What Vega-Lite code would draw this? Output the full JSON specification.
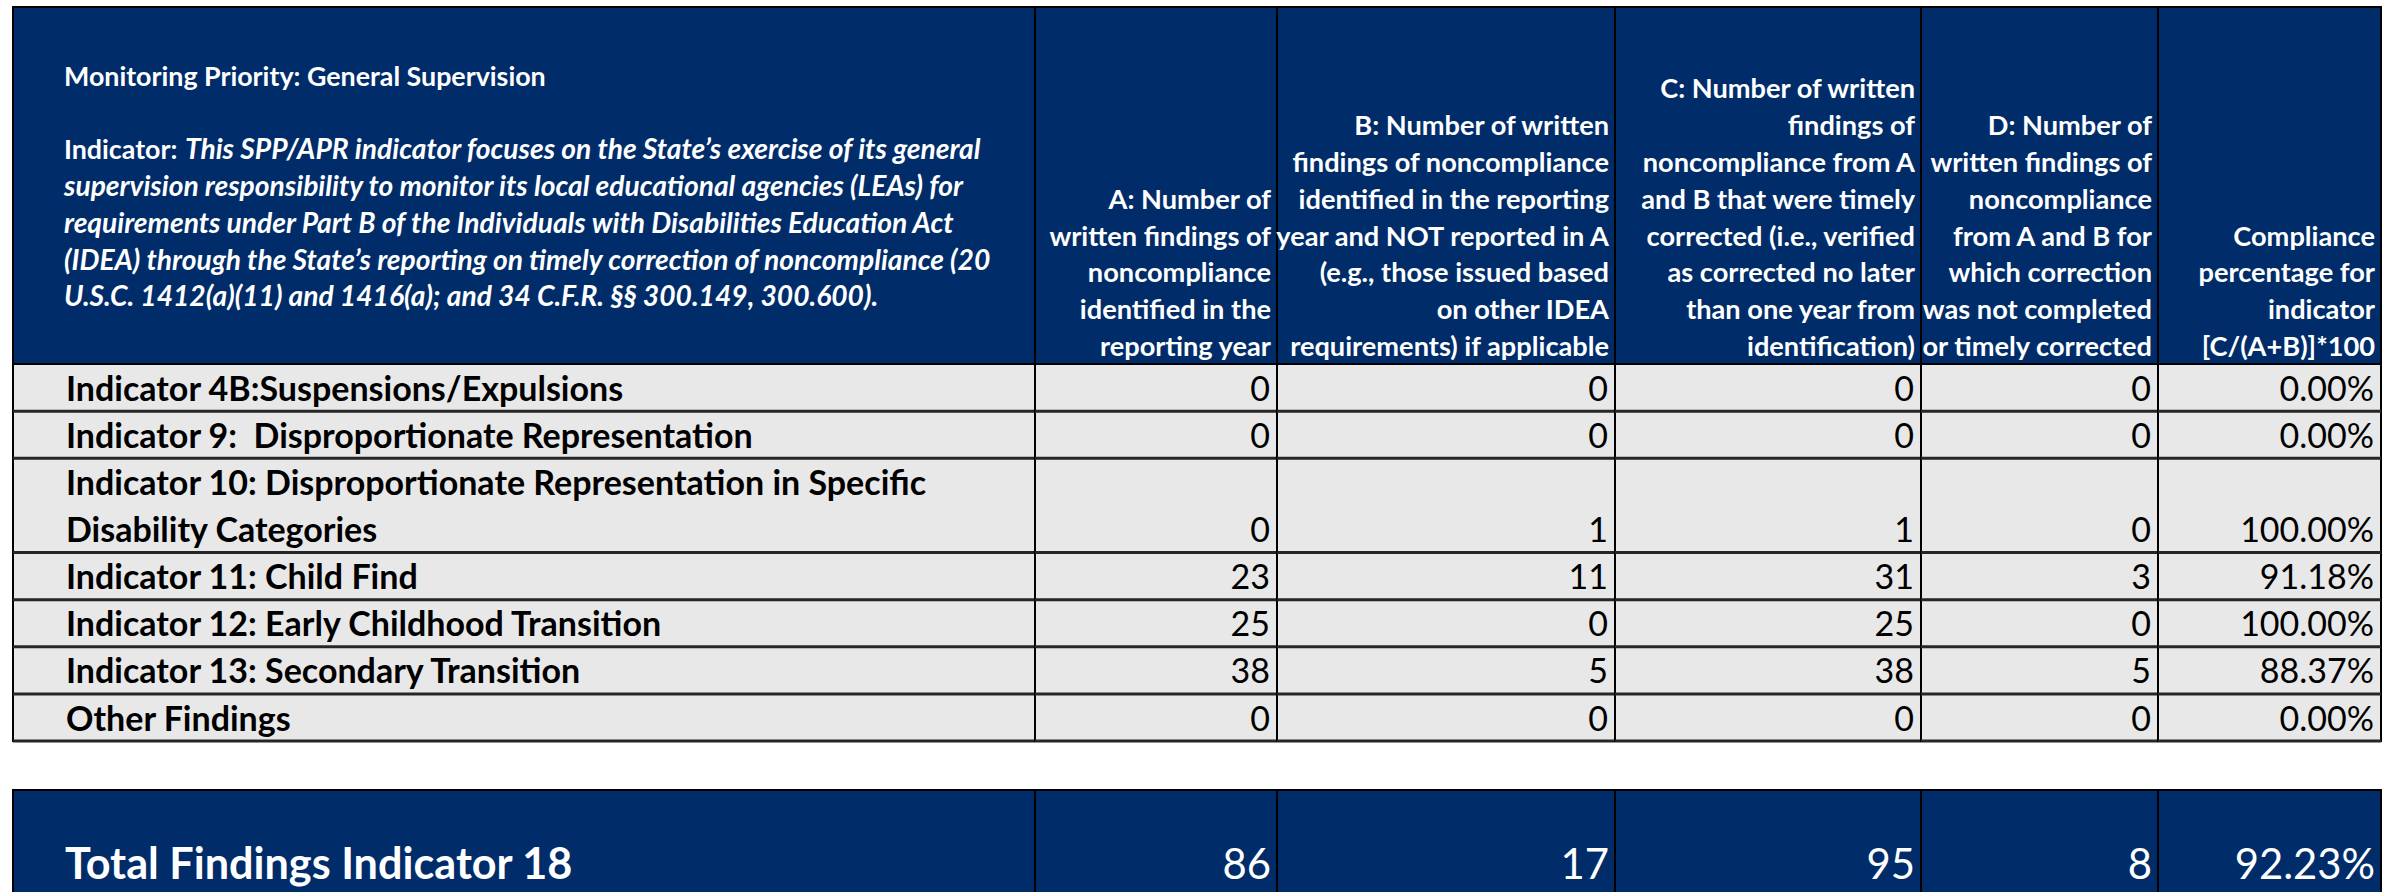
{
  "$schema": "https://vega.github.io/schema/vega-lite/v6.json",
  "background": "white",
  "padding": {"left": 10, "top": 6, "right": 0, "bottom": 0},
  "config": {"font": "Lato"},
  "datasets": {
    "intro": [
      {
        "priority": "Monitoring Priority: General Supervision",
        "indicatorLabel": "Indicator:",
        "indicatorLead": "This SPP/APR indicator focuses on the State’s exercise of its general",
        "indicatorRest": "supervision responsibility to monitor its local educational agencies (LEAs) for\nrequirements under Part B of the Individuals with Disabilities Education Act\n(IDEA) through the State’s reporting on timely correction of noncompliance (20\nU.S.C. 1412(a)(11) and 1416(a); and 34 C.F.R. §§ 300.149, 300.600)."
      }
    ],
    "headers": [
      {
        "A": "A: Number of\nwritten findings of\nnoncompliance\nidentified in the\nreporting year",
        "B": "B: Number of written\nfindings of noncompliance\nidentified in the reporting\nyear and NOT reported in A\n(e.g., those issued based\non other IDEA\nrequirements) if applicable",
        "C": "C: Number of written\nfindings of\nnoncompliance from A\nand B that were timely\ncorrected (i.e., verified\nas corrected no later\nthan one year from\nidentification)",
        "D": "D: Number of\nwritten findings of\nnoncompliance\nfrom A and B for\nwhich correction\nwas not completed\nor timely corrected",
        "pct": "Compliance\npercentage for\nindicator\n[C/(A+B)]*100"
      }
    ],
    "rows": [
      {"indicator": "Indicator 4B:Suspensions/Expulsions", "A": 0, "B": 0, "C": 0, "D": 0, "pct": 0},
      {"indicator": "Indicator 9:\u00a0 Disproportionate Representation", "A": 0, "B": 0, "C": 0, "D": 0, "pct": 0},
      {"indicator": "Indicator 10: Disproportionate Representation in Specific\nDisability Categories", "A": 0, "B": 1, "C": 1, "D": 0, "pct": 1},
      {"indicator": "Indicator 11: Child Find", "A": 23, "B": 11, "C": 31, "D": 3, "pct": 0.9118},
      {"indicator": "Indicator 12: Early Childhood Transition", "A": 25, "B": 0, "C": 25, "D": 0, "pct": 1},
      {"indicator": "Indicator 13: Secondary Transition", "A": 38, "B": 5, "C": 38, "D": 5, "pct": 0.8837},
      {"indicator": "Other Findings", "A": 0, "B": 0, "C": 0, "D": 0, "pct": 0}
    ],
    "total": [
      {"indicator": "Total Findings Indicator 18", "A": 86, "B": 17, "C": 95, "D": 8, "pct": 0.9223}
    ]
  },
  "concat": [
    {
      "width": 1022, "height": 357,
      "data": {"name": "intro"},
      "view": {"fill": "#002D69", "stroke": "#000000", "strokeWidth": 2},
      "layer": [
        {
          "mark": {"type": "text", "align": "left", "baseline": "alphabetic", "font": "Lato", "fontWeight": "bold", "fontSize": 26.8, "fill": "#ffffff", "dx": 51, "dy": -99.5},
          "encoding": {
            "x": {"datum": 0, "type": "quantitative", "scale": {"domain": [0, 1]}, "axis": null},
            "y": {"datum": 0.5, "type": "quantitative", "scale": {"domain": [0, 1]}, "axis": null},
            "text": {"field": "priority", "type": "nominal"}
          }
        },
        {
          "mark": {"type": "text", "align": "left", "baseline": "alphabetic", "font": "Lato", "fontWeight": "bold", "fontSize": 26.8, "fill": "#ffffff", "dx": 51, "dy": -26.5},
          "encoding": {
            "x": {"datum": 0, "type": "quantitative", "scale": {"domain": [0, 1]}, "axis": null},
            "y": {"datum": 0.5, "type": "quantitative", "scale": {"domain": [0, 1]}, "axis": null},
            "text": {"field": "indicatorLabel", "type": "nominal"}
          }
        },
        {
          "mark": {"type": "text", "align": "left", "baseline": "alphabetic", "font": "Lato", "fontWeight": "bold", "fontStyle": "italic", "fontSize": 28.2, "fill": "#ffffff", "dx": 172, "dy": -26.5},
          "encoding": {
            "x": {"datum": 0, "type": "quantitative", "scale": {"domain": [0, 1]}, "axis": null},
            "y": {"datum": 0.5, "type": "quantitative", "scale": {"domain": [0, 1]}, "axis": null},
            "text": {"field": "indicatorLead", "type": "nominal"}
          }
        },
        {
          "mark": {"type": "text", "align": "left", "baseline": "alphabetic", "lineBreak": "\n", "lineHeight": 36.8, "font": "Lato", "fontWeight": "bold", "fontStyle": "italic", "fontSize": 28.2, "fill": "#ffffff", "dx": 51, "dy": 10.5},
          "encoding": {
            "x": {"datum": 0, "type": "quantitative", "scale": {"domain": [0, 1]}, "axis": null},
            "y": {"datum": 0.5, "type": "quantitative", "scale": {"domain": [0, 1]}, "axis": null},
            "text": {"field": "indicatorRest", "type": "nominal"}
          }
        }
      ]
    },
    {
      "width": 242, "height": 357,
      "data": {"name": "headers"},
      "transform": [{"calculate": "join(reverse(split(datum.A, '\\n')), '\\n')", "as": "linesUp"}],
      "view": {"fill": "#002D69", "stroke": "#000000", "strokeWidth": 2},
      "mark": {"type": "text", "align": "right", "baseline": "bottom", "lineBreak": "\n", "lineHeight": -36.8, "font": "Lato", "fontWeight": "bold", "fontSize": 27.2, "fill": "#ffffff", "dx": -6, "dy": -2},
      "encoding": {
        "x": {"datum": 1, "type": "quantitative", "scale": {"domain": [0, 1]}, "axis": null},
        "y": {"datum": 0, "type": "quantitative", "scale": {"domain": [0, 1]}, "axis": null},
        "text": {"field": "linesUp", "type": "nominal"}
      }
    },
    {
      "width": 338, "height": 357,
      "data": {"name": "headers"},
      "transform": [{"calculate": "join(reverse(split(datum.B, '\\n')), '\\n')", "as": "linesUp"}],
      "view": {"fill": "#002D69", "stroke": "#000000", "strokeWidth": 2},
      "mark": {"type": "text", "align": "right", "baseline": "bottom", "lineBreak": "\n", "lineHeight": -36.8, "font": "Lato", "fontWeight": "bold", "fontSize": 27.2, "fill": "#ffffff", "dx": -6, "dy": -2},
      "encoding": {
        "x": {"datum": 1, "type": "quantitative", "scale": {"domain": [0, 1]}, "axis": null},
        "y": {"datum": 0, "type": "quantitative", "scale": {"domain": [0, 1]}, "axis": null},
        "text": {"field": "linesUp", "type": "nominal"}
      }
    },
    {
      "width": 306, "height": 357,
      "data": {"name": "headers"},
      "transform": [{"calculate": "join(reverse(split(datum.C, '\\n')), '\\n')", "as": "linesUp"}],
      "view": {"fill": "#002D69", "stroke": "#000000", "strokeWidth": 2},
      "mark": {"type": "text", "align": "right", "baseline": "bottom", "lineBreak": "\n", "lineHeight": -36.8, "font": "Lato", "fontWeight": "bold", "fontSize": 27.2, "fill": "#ffffff", "dx": -6, "dy": -2},
      "encoding": {
        "x": {"datum": 1, "type": "quantitative", "scale": {"domain": [0, 1]}, "axis": null},
        "y": {"datum": 0, "type": "quantitative", "scale": {"domain": [0, 1]}, "axis": null},
        "text": {"field": "linesUp", "type": "nominal"}
      }
    },
    {
      "width": 237, "height": 357,
      "data": {"name": "headers"},
      "transform": [{"calculate": "join(reverse(split(datum.D, '\\n')), '\\n')", "as": "linesUp"}],
      "view": {"fill": "#002D69", "stroke": "#000000", "strokeWidth": 2},
      "mark": {"type": "text", "align": "right", "baseline": "bottom", "lineBreak": "\n", "lineHeight": -36.8, "font": "Lato", "fontWeight": "bold", "fontSize": 27.2, "fill": "#ffffff", "dx": -6, "dy": -2},
      "encoding": {
        "x": {"datum": 1, "type": "quantitative", "scale": {"domain": [0, 1]}, "axis": null},
        "y": {"datum": 0, "type": "quantitative", "scale": {"domain": [0, 1]}, "axis": null},
        "text": {"field": "linesUp", "type": "nominal"}
      }
    },
    {
      "width": 223, "height": 357,
      "data": {"name": "headers"},
      "transform": [{"calculate": "join(reverse(split(datum.pct, '\\n')), '\\n')", "as": "linesUp"}],
      "view": {"fill": "#002D69", "stroke": "#000000", "strokeWidth": 2},
      "mark": {"type": "text", "align": "right", "baseline": "bottom", "lineBreak": "\n", "lineHeight": -36.8, "font": "Lato", "fontWeight": "bold", "fontSize": 27.2, "fill": "#ffffff", "dx": -6, "dy": -2},
      "encoding": {
        "x": {"datum": 1, "type": "quantitative", "scale": {"domain": [0, 1]}, "axis": null},
        "y": {"datum": 0, "type": "quantitative", "scale": {"domain": [0, 1]}, "axis": null},
        "text": {"field": "linesUp", "type": "nominal"}
      }
    },
    {
      "width": 1022, "height": 377,
      "data": {"name": "rows"},
      "transform": [{"calculate": "join(reverse(split(datum.indicator, '\\n')), '\\n')", "as": "linesUp"}],
      "view": {"fill": "#E8E8E8", "stroke": "#000000", "strokeWidth": 2},
      "layer": [
        {
          "mark": {"type": "rule", "color": "#262626", "strokeWidth": 3},
          "encoding": {"y": {"field": "indicator", "type": "nominal", "bandPosition": 1, "scale": {"type": "band", "domain": ["Indicator 4B:Suspensions/Expulsions", "Indicator 9:\u00a0 Disproportionate Representation", " ", "Indicator 10: Disproportionate Representation in Specific\nDisability Categories", "Indicator 11: Child Find", "Indicator 12: Early Childhood Transition", "Indicator 13: Secondary Transition", "Other Findings"], "paddingInner": 0, "paddingOuter": 0}, "axis": null}}
        },
        {
          "mark": {"type": "text", "align": "left", "baseline": "bottom", "lineBreak": "\n", "lineHeight": -47, "font": "Lato", "fontWeight": "bold", "fontSize": 34, "fill": "#000000", "dx": 53, "dy": -3.5},
          "encoding": {
            "x": {"datum": 0, "type": "quantitative", "scale": {"domain": [0, 1]}, "axis": null},
            "y": {"field": "indicator", "type": "nominal", "bandPosition": 1, "scale": {"type": "band", "domain": ["Indicator 4B:Suspensions/Expulsions", "Indicator 9:\u00a0 Disproportionate Representation", " ", "Indicator 10: Disproportionate Representation in Specific\nDisability Categories", "Indicator 11: Child Find", "Indicator 12: Early Childhood Transition", "Indicator 13: Secondary Transition", "Other Findings"], "paddingInner": 0, "paddingOuter": 0}, "axis": null},
            "text": {"field": "linesUp", "type": "nominal"}
          }
        }
      ]
    },
    {
      "width": 242, "height": 377,
      "data": {"name": "rows"},
      "view": {"fill": "#E8E8E8", "stroke": "#000000", "strokeWidth": 2},
      "layer": [
        {
          "mark": {"type": "rule", "color": "#262626", "strokeWidth": 3},
          "encoding": {"y": {"field": "indicator", "type": "nominal", "bandPosition": 1, "scale": {"type": "band", "domain": ["Indicator 4B:Suspensions/Expulsions", "Indicator 9:\u00a0 Disproportionate Representation", " ", "Indicator 10: Disproportionate Representation in Specific\nDisability Categories", "Indicator 11: Child Find", "Indicator 12: Early Childhood Transition", "Indicator 13: Secondary Transition", "Other Findings"], "paddingInner": 0, "paddingOuter": 0}, "axis": null}}
        },
        {
          "mark": {"type": "text", "align": "right", "baseline": "bottom", "font": "Lato", "fontSize": 34, "fill": "#000000", "dx": -7, "dy": -3.5},
          "encoding": {
            "x": {"datum": 1, "type": "quantitative", "scale": {"domain": [0, 1]}, "axis": null},
            "y": {"field": "indicator", "type": "nominal", "bandPosition": 1, "scale": {"type": "band", "domain": ["Indicator 4B:Suspensions/Expulsions", "Indicator 9:\u00a0 Disproportionate Representation", " ", "Indicator 10: Disproportionate Representation in Specific\nDisability Categories", "Indicator 11: Child Find", "Indicator 12: Early Childhood Transition", "Indicator 13: Secondary Transition", "Other Findings"], "paddingInner": 0, "paddingOuter": 0}, "axis": null},
            "text": {"field": "A", "type": "quantitative"}
          }
        }
      ]
    },
    {
      "width": 338, "height": 377,
      "data": {"name": "rows"},
      "view": {"fill": "#E8E8E8", "stroke": "#000000", "strokeWidth": 2},
      "layer": [
        {
          "mark": {"type": "rule", "color": "#262626", "strokeWidth": 3},
          "encoding": {"y": {"field": "indicator", "type": "nominal", "bandPosition": 1, "scale": {"type": "band", "domain": ["Indicator 4B:Suspensions/Expulsions", "Indicator 9:\u00a0 Disproportionate Representation", " ", "Indicator 10: Disproportionate Representation in Specific\nDisability Categories", "Indicator 11: Child Find", "Indicator 12: Early Childhood Transition", "Indicator 13: Secondary Transition", "Other Findings"], "paddingInner": 0, "paddingOuter": 0}, "axis": null}}
        },
        {
          "mark": {"type": "text", "align": "right", "baseline": "bottom", "font": "Lato", "fontSize": 34, "fill": "#000000", "dx": -7, "dy": -3.5},
          "encoding": {
            "x": {"datum": 1, "type": "quantitative", "scale": {"domain": [0, 1]}, "axis": null},
            "y": {"field": "indicator", "type": "nominal", "bandPosition": 1, "scale": {"type": "band", "domain": ["Indicator 4B:Suspensions/Expulsions", "Indicator 9:\u00a0 Disproportionate Representation", " ", "Indicator 10: Disproportionate Representation in Specific\nDisability Categories", "Indicator 11: Child Find", "Indicator 12: Early Childhood Transition", "Indicator 13: Secondary Transition", "Other Findings"], "paddingInner": 0, "paddingOuter": 0}, "axis": null},
            "text": {"field": "B", "type": "quantitative"}
          }
        }
      ]
    },
    {
      "width": 306, "height": 377,
      "data": {"name": "rows"},
      "view": {"fill": "#E8E8E8", "stroke": "#000000", "strokeWidth": 2},
      "layer": [
        {
          "mark": {"type": "rule", "color": "#262626", "strokeWidth": 3},
          "encoding": {"y": {"field": "indicator", "type": "nominal", "bandPosition": 1, "scale": {"type": "band", "domain": ["Indicator 4B:Suspensions/Expulsions", "Indicator 9:\u00a0 Disproportionate Representation", " ", "Indicator 10: Disproportionate Representation in Specific\nDisability Categories", "Indicator 11: Child Find", "Indicator 12: Early Childhood Transition", "Indicator 13: Secondary Transition", "Other Findings"], "paddingInner": 0, "paddingOuter": 0}, "axis": null}}
        },
        {
          "mark": {"type": "text", "align": "right", "baseline": "bottom", "font": "Lato", "fontSize": 34, "fill": "#000000", "dx": -7, "dy": -3.5},
          "encoding": {
            "x": {"datum": 1, "type": "quantitative", "scale": {"domain": [0, 1]}, "axis": null},
            "y": {"field": "indicator", "type": "nominal", "bandPosition": 1, "scale": {"type": "band", "domain": ["Indicator 4B:Suspensions/Expulsions", "Indicator 9:\u00a0 Disproportionate Representation", " ", "Indicator 10: Disproportionate Representation in Specific\nDisability Categories", "Indicator 11: Child Find", "Indicator 12: Early Childhood Transition", "Indicator 13: Secondary Transition", "Other Findings"], "paddingInner": 0, "paddingOuter": 0}, "axis": null},
            "text": {"field": "C", "type": "quantitative"}
          }
        }
      ]
    },
    {
      "width": 237, "height": 377,
      "data": {"name": "rows"},
      "view": {"fill": "#E8E8E8", "stroke": "#000000", "strokeWidth": 2},
      "layer": [
        {
          "mark": {"type": "rule", "color": "#262626", "strokeWidth": 3},
          "encoding": {"y": {"field": "indicator", "type": "nominal", "bandPosition": 1, "scale": {"type": "band", "domain": ["Indicator 4B:Suspensions/Expulsions", "Indicator 9:\u00a0 Disproportionate Representation", " ", "Indicator 10: Disproportionate Representation in Specific\nDisability Categories", "Indicator 11: Child Find", "Indicator 12: Early Childhood Transition", "Indicator 13: Secondary Transition", "Other Findings"], "paddingInner": 0, "paddingOuter": 0}, "axis": null}}
        },
        {
          "mark": {"type": "text", "align": "right", "baseline": "bottom", "font": "Lato", "fontSize": 34, "fill": "#000000", "dx": -7, "dy": -3.5},
          "encoding": {
            "x": {"datum": 1, "type": "quantitative", "scale": {"domain": [0, 1]}, "axis": null},
            "y": {"field": "indicator", "type": "nominal", "bandPosition": 1, "scale": {"type": "band", "domain": ["Indicator 4B:Suspensions/Expulsions", "Indicator 9:\u00a0 Disproportionate Representation", " ", "Indicator 10: Disproportionate Representation in Specific\nDisability Categories", "Indicator 11: Child Find", "Indicator 12: Early Childhood Transition", "Indicator 13: Secondary Transition", "Other Findings"], "paddingInner": 0, "paddingOuter": 0}, "axis": null},
            "text": {"field": "D", "type": "quantitative"}
          }
        }
      ]
    },
    {
      "width": 223, "height": 377,
      "data": {"name": "rows"},
      "view": {"fill": "#E8E8E8", "stroke": "#000000", "strokeWidth": 2},
      "layer": [
        {
          "mark": {"type": "rule", "color": "#262626", "strokeWidth": 3},
          "encoding": {"y": {"field": "indicator", "type": "nominal", "bandPosition": 1, "scale": {"type": "band", "domain": ["Indicator 4B:Suspensions/Expulsions", "Indicator 9:\u00a0 Disproportionate Representation", " ", "Indicator 10: Disproportionate Representation in Specific\nDisability Categories", "Indicator 11: Child Find", "Indicator 12: Early Childhood Transition", "Indicator 13: Secondary Transition", "Other Findings"], "paddingInner": 0, "paddingOuter": 0}, "axis": null}}
        },
        {
          "mark": {"type": "text", "align": "right", "baseline": "bottom", "font": "Lato", "fontSize": 34, "fill": "#000000", "dx": -7, "dy": -3.5},
          "encoding": {
            "x": {"datum": 1, "type": "quantitative", "scale": {"domain": [0, 1]}, "axis": null},
            "y": {"field": "indicator", "type": "nominal", "bandPosition": 1, "scale": {"type": "band", "domain": ["Indicator 4B:Suspensions/Expulsions", "Indicator 9:\u00a0 Disproportionate Representation", " ", "Indicator 10: Disproportionate Representation in Specific\nDisability Categories", "Indicator 11: Child Find", "Indicator 12: Early Childhood Transition", "Indicator 13: Secondary Transition", "Other Findings"], "paddingInner": 0, "paddingOuter": 0}, "axis": null},
            "text": {"field": "pct", "type": "quantitative", "format": ".2%"}
          }
        }
      ]
    },
    {"width": 1022, "height": 49, "data": {"name": "total"}, "view": {"stroke": null, "fill": null}, "mark": {"type": "text"}, "encoding": {"text": {"value": ""}}},
    {"width": 242, "height": 49, "data": {"name": "total"}, "view": {"stroke": null, "fill": null}, "mark": {"type": "text"}, "encoding": {"text": {"value": ""}}},
    {"width": 338, "height": 49, "data": {"name": "total"}, "view": {"stroke": null, "fill": null}, "mark": {"type": "text"}, "encoding": {"text": {"value": ""}}},
    {"width": 306, "height": 49, "data": {"name": "total"}, "view": {"stroke": null, "fill": null}, "mark": {"type": "text"}, "encoding": {"text": {"value": ""}}},
    {"width": 237, "height": 49, "data": {"name": "total"}, "view": {"stroke": null, "fill": null}, "mark": {"type": "text"}, "encoding": {"text": {"value": ""}}},
    {"width": 223, "height": 49, "data": {"name": "total"}, "view": {"stroke": null, "fill": null}, "mark": {"type": "text"}, "encoding": {"text": {"value": ""}}},
    {
      "width": 1022, "height": 106,
      "data": {"name": "total"},
      "view": {"fill": "#002D69", "stroke": "#000000", "strokeWidth": 2},
      "mark": {"type": "text", "align": "left", "baseline": "alphabetic", "font": "Lato", "fontWeight": "bold", "fontSize": 43.2, "fill": "#ffffff", "dx": 52, "dy": 89},
      "encoding": {
        "x": {"datum": 0, "type": "quantitative", "scale": {"domain": [0, 1]}, "axis": null},
        "y": {"datum": 1, "type": "quantitative", "scale": {"domain": [0, 1]}, "axis": null},
        "text": {"field": "indicator", "type": "nominal"}
      }
    },
    {
      "width": 242, "height": 106,
      "data": {"name": "total"},
      "view": {"fill": "#002D69", "stroke": "#000000", "strokeWidth": 2},
      "mark": {"type": "text", "align": "right", "baseline": "alphabetic", "font": "Lato", "fontSize": 41.8, "fill": "#ffffff", "dx": -6, "dy": 89},
      "encoding": {
        "x": {"datum": 1, "type": "quantitative", "scale": {"domain": [0, 1]}, "axis": null},
        "y": {"datum": 1, "type": "quantitative", "scale": {"domain": [0, 1]}, "axis": null},
        "text": {"field": "A", "type": "quantitative"}
      }
    },
    {
      "width": 338, "height": 106,
      "data": {"name": "total"},
      "view": {"fill": "#002D69", "stroke": "#000000", "strokeWidth": 2},
      "mark": {"type": "text", "align": "right", "baseline": "alphabetic", "font": "Lato", "fontSize": 41.8, "fill": "#ffffff", "dx": -6, "dy": 89},
      "encoding": {
        "x": {"datum": 1, "type": "quantitative", "scale": {"domain": [0, 1]}, "axis": null},
        "y": {"datum": 1, "type": "quantitative", "scale": {"domain": [0, 1]}, "axis": null},
        "text": {"field": "B", "type": "quantitative"}
      }
    },
    {
      "width": 306, "height": 106,
      "data": {"name": "total"},
      "view": {"fill": "#002D69", "stroke": "#000000", "strokeWidth": 2},
      "mark": {"type": "text", "align": "right", "baseline": "alphabetic", "font": "Lato", "fontSize": 41.8, "fill": "#ffffff", "dx": -6, "dy": 89},
      "encoding": {
        "x": {"datum": 1, "type": "quantitative", "scale": {"domain": [0, 1]}, "axis": null},
        "y": {"datum": 1, "type": "quantitative", "scale": {"domain": [0, 1]}, "axis": null},
        "text": {"field": "C", "type": "quantitative"}
      }
    },
    {
      "width": 237, "height": 106,
      "data": {"name": "total"},
      "view": {"fill": "#002D69", "stroke": "#000000", "strokeWidth": 2},
      "mark": {"type": "text", "align": "right", "baseline": "alphabetic", "font": "Lato", "fontSize": 41.8, "fill": "#ffffff", "dx": -6, "dy": 89},
      "encoding": {
        "x": {"datum": 1, "type": "quantitative", "scale": {"domain": [0, 1]}, "axis": null},
        "y": {"datum": 1, "type": "quantitative", "scale": {"domain": [0, 1]}, "axis": null},
        "text": {"field": "D", "type": "quantitative"}
      }
    },
    {
      "width": 223, "height": 106,
      "data": {"name": "total"},
      "view": {"fill": "#002D69", "stroke": "#000000", "strokeWidth": 2},
      "mark": {"type": "text", "align": "right", "baseline": "alphabetic", "font": "Lato", "fontSize": 41.8, "fill": "#ffffff", "dx": -6, "dy": 89},
      "encoding": {
        "x": {"datum": 1, "type": "quantitative", "scale": {"domain": [0, 1]}, "axis": null},
        "y": {"datum": 1, "type": "quantitative", "scale": {"domain": [0, 1]}, "axis": null},
        "text": {"field": "pct", "type": "quantitative", "format": ".2%"}
      }
    }
  ],
  "columns": 6,
  "spacing": 0,
  "bounds": "flush"
}
